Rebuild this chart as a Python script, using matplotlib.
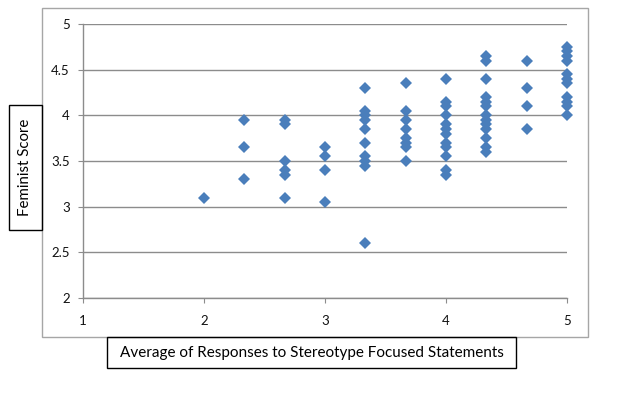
import matplotlib.pyplot as plt
from matplotlib.patches import Rectangle

plt.rcParams['font.family'] = ['Lato', 'DejaVu Sans']

# stereotype average (thirds) and feminist score per column
x_values = [2, 7/3, 8/3, 3, 10/3, 11/3, 4, 13/3, 14/3, 5]
y_values = [
    [3.1],
    [3.95, 3.65, 3.3],
    [3.95, 3.9, 3.5, 3.4, 3.35, 3.1],
    [3.65, 3.55, 3.4, 3.05],
    [4.3, 4.05, 4.0, 3.95, 3.85, 3.7, 3.55, 3.5, 3.45, 2.6],
    [4.35, 4.05, 3.95, 3.85, 3.75, 3.7, 3.65, 3.5],
    [4.4, 4.15, 4.1, 4.0, 3.9, 3.85, 3.8, 3.7, 3.65, 3.55, 3.4, 3.35],
    [4.65, 4.6, 4.4, 4.2, 4.15, 4.1, 4.0, 3.95, 3.9, 3.85, 3.75, 3.65, 3.6],
    [4.6, 4.3, 4.1, 3.85],
    [4.75, 4.7, 4.65, 4.6, 4.45, 4.4, 4.35, 4.2, 4.15, 4.1, 4.0],
]
xticks = [1, 2, 3, 4, 5]
yticks = [2, 2.5, 3, 3.5, 4, 4.5, 5]

xs = []
ys = []
for xv, col in zip(x_values, y_values):
    for yv in col:
        xs.append(xv)
        ys.append(yv)

W, H = 622, 394
fig = plt.figure(figsize=(W / 100, H / 100), dpi=100)
ax = fig.add_axes([83 / W, 1 - 298 / H, (567 - 83) / W, (298 - 24) / H])

ax.plot(xs, ys, linestyle='none', marker='D', ms=6.4, color='#4a7ebb',
        markeredgewidth=0, clip_on=False, zorder=3)

ax.set_xlim(1, 5)
ax.set_ylim(2, 5)
ax.set_xticks(xticks)
ax.set_yticks(yticks)
ax.set_xticklabels([str(t) for t in xticks])
ax.set_yticklabels(['2', '2.5', '3', '3.5', '4', '4.5', '5'])

grid_col = '#8c8c8c'
ax.grid(axis='y', color=grid_col, lw=1)
ax.set_axisbelow(True)
for side in ['top', 'right']:
    ax.spines[side].set_visible(False)
for side in ['left', 'bottom']:
    ax.spines[side].set_color(grid_col)
    ax.spines[side].set_linewidth(1)
ax.tick_params(axis='both', direction='out', length=3.5, color=grid_col,
               labelsize=9.5, labelcolor='#111111')
ax.tick_params(axis='x', pad=9)
ax.tick_params(axis='y', pad=6)

def fig_box(x0, y0, x1, y1, color, lw):
    r = Rectangle((x0 / W, 1 - y1 / H), (x1 - x0) / W, (y1 - y0) / H,
                  transform=fig.transFigure, fill=False, edgecolor=color, lw=lw)
    fig.patches.append(r)

# chart frame
fig_box(42, 8, 588, 337, '#a6a6a6', 1)

# axis title boxes
fig_box(9, 105, 42, 230, 'black', 1)
fig.text(25.5 / W, 1 - 167.5 / H, 'Feminist Score', rotation=90,
         ha='center', va='center', fontsize=10.8)

fig_box(107, 337, 516, 368, 'black', 1)
fig.text(311.5 / W, 1 - 352.5 / H,
         'Average of Responses to Stereotype Focused Statements',
         ha='center', va='center', fontsize=11)

fig.savefig('out.png', dpi=100)
